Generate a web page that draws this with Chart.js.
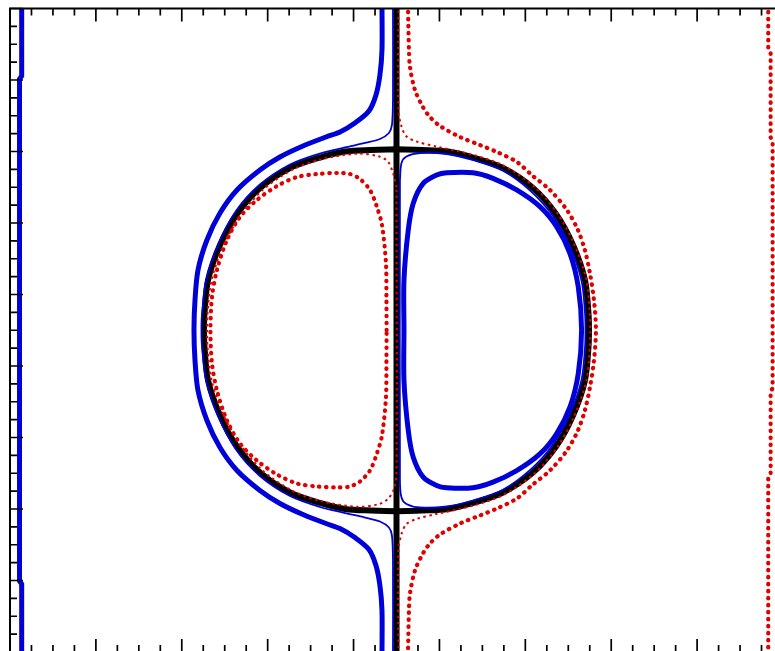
<!DOCTYPE html>
<html>
<head>
<meta charset="utf-8">
<script src="https://cdn.jsdelivr.net/npm/chart.js@4"></script>
<style>
  html, body { margin: 0; padding: 0; background: #fff; overflow: hidden; }
  #plot { display: block; }
</style>
</head>
<body>
<canvas id="plot" width="790" height="660"></canvas>
<script>
// Domain and tick spacing
const xRange = [0, 9];
const yRange = [0, 9];
const minorStep = 0.25;

// Body outline and the cut through it
const bodyRing = [
  [4.5, 7.031], [4.2, 7.022], [3.900, 7.000], [3.609, 6.916], [3.260, 6.769], [2.911, 6.490],
  [2.643, 6.126], [2.445, 5.692], [2.306, 5.203], [2.265, 4.741], [2.259, 4.5], [2.265, 4.259],
  [2.306, 3.797], [2.445, 3.308], [2.643, 2.874], [2.911, 2.510], [3.260, 2.231], [3.609, 2.084],
  [3.900, 2.000], [4.2, 1.978], [4.5, 1.969], [4.8, 1.978], [5.100, 2.000], [5.391, 2.084],
  [5.740, 2.231], [6.089, 2.510], [6.357, 2.874], [6.555, 3.308], [6.694, 3.797], [6.735, 4.259],
  [6.741, 4.5], [6.735, 4.741], [6.694, 5.203], [6.555, 5.692], [6.357, 6.126], [6.089, 6.490],
  [5.740, 6.769], [5.391, 6.916], [5.100, 7.000], [4.8, 7.022], [4.5, 7.031]
];
const bodyCut = [[4.5, -0.1], [4.5, 9.1]];

// Positive level (blue)
const blueEdge = [
  [0.136, 9.05], [0.136, 8.056], [0.111, 8.014], [0.111, 0.993], [0.136, 0.951], [0.136, -0.05]
];
const blueOuter = [
  [4.331, 9.05], [4.331, 8.420], [4.307, 8.070], [4.261, 7.790], [4.179, 7.566], [4.016, 7.399],
  [3.842, 7.273], [3.679, 7.203], [3.411, 7.077], [3.143, 6.923], [2.910, 6.741], [2.643, 6.462],
  [2.445, 6.140], [2.293, 5.762], [2.189, 5.343], [2.154, 4.923], [2.142, 4.5], [2.154, 4.077],
  [2.189, 3.657], [2.293, 3.238], [2.445, 2.860], [2.643, 2.538], [2.910, 2.259], [3.143, 2.077],
  [3.411, 1.923], [3.679, 1.797], [3.842, 1.727], [4.016, 1.601], [4.179, 1.434], [4.261, 1.210],
  [4.307, 0.930], [4.331, 0.580], [4.331, -0.05]
];
const blueInner = [
  [4.587, 4.5], [4.587, 5.203], [4.637, 5.902], [4.695, 6.276], [4.811, 6.555], [4.967, 6.671],
  [5.084, 6.703], [5.390, 6.703], [5.623, 6.625], [5.899, 6.462], [6.170, 6.228], [6.364, 5.948],
  [6.519, 5.576], [6.616, 5.109], [6.655, 4.5], [6.616, 3.891], [6.519, 3.424], [6.364, 3.052],
  [6.170, 2.772], [5.899, 2.538], [5.623, 2.375], [5.390, 2.297], [5.084, 2.297], [4.967, 2.329],
  [4.811, 2.445], [4.695, 2.724], [4.637, 3.098], [4.587, 3.797], [4.587, 4.5]
];
const blueNearLeft = [
  [4.459, 9.05], [4.459, 7.720], [4.447, 7.371], [4.412, 7.259], [4.307, 7.175], [4.133, 7.119],
  [3.900, 7.056], [3.609, 6.972], [3.260, 6.818], [2.910, 6.538], [2.631, 6.168], [2.421, 5.692],
  [2.282, 5.189], [2.235, 4.713], [2.229, 4.5], [2.235, 4.287], [2.282, 3.811], [2.421, 3.308],
  [2.631, 2.832], [2.910, 2.462], [3.260, 2.182], [3.609, 2.028], [3.900, 1.944], [4.133, 1.881],
  [4.307, 1.825], [4.412, 1.741], [4.447, 1.629], [4.459, 1.280], [4.459, -0.05]
];
const blueNearRight = [
  [4.540, 6.601], [4.558, 6.839], [4.616, 6.930], [4.773, 6.979], [5.087, 6.965], [5.390, 6.881],
  [5.74, 6.73], [6.06, 6.45], [6.32, 6.10], [6.52, 5.67], [6.655, 5.19], [6.695, 4.74], [6.70, 4.5],
  [6.695, 4.26], [6.655, 3.81], [6.52, 3.33], [6.32, 2.90], [6.06, 2.55], [5.74, 2.27], [5.390, 2.119],
  [5.087, 2.035], [4.773, 2.021], [4.616, 2.070], [4.558, 2.161], [4.540, 2.399], [4.540, 6.601]
];

// Negative level (red)
const redEdge = [
  [8.828, 9.05], [8.828, 8.45], [8.856, 8.38], [8.856, 7.20], [8.879, 7.12], [8.879, 3.69],
  [8.856, 3.64], [8.856, 2.50], [8.828, 2.44], [8.828, -0.05]
];
const redOuter = [
  [4.633, 9.05], [4.645, 8.420], [4.657, 8.182], [4.715, 7.860], [4.808, 7.622], [4.889, 7.483],
  [5.006, 7.357], [5.239, 7.203], [5.471, 7.091], [5.669, 6.993], [5.902, 6.853], [6.088, 6.657],
  [6.286, 6.462], [6.484, 6.182], [6.612, 5.902], [6.693, 5.622], [6.752, 5.301], [6.799, 4.923],
  [6.822, 4.5], [6.799, 4.077], [6.752, 3.699], [6.693, 3.378], [6.612, 3.098], [6.484, 2.818],
  [6.286, 2.538], [6.088, 2.343], [5.902, 2.147], [5.669, 2.007], [5.471, 1.909], [5.239, 1.797],
  [5.006, 1.643], [4.889, 1.517], [4.808, 1.378], [4.715, 1.140], [4.657, 0.818], [4.645, 0.580],
  [4.633, -0.05]
];
const redInner = [
  [4.385, 4.5], [4.383, 4.923], [4.377, 5.441], [4.331, 5.972], [4.272, 6.224], [4.191, 6.462],
  [4.075, 6.615], [3.958, 6.685], [3.807, 6.699], [3.574, 6.685], [3.341, 6.643], [3.108, 6.517],
  [2.875, 6.322], [2.678, 6.084], [2.526, 5.762], [2.410, 5.343], [2.352, 4.965], [2.334, 4.5],
  [2.352, 4.035], [2.410, 3.657], [2.526, 3.238], [2.678, 2.916], [2.875, 2.678], [3.108, 2.483],
  [3.341, 2.357], [3.574, 2.315], [3.807, 2.301], [3.958, 2.315], [4.075, 2.385], [4.191, 2.538],
  [4.272, 2.776], [4.331, 3.028], [4.377, 3.559], [4.383, 4.077], [4.385, 4.5]
];
const redNearRight = [
  [4.523, 9.05], [4.523, 7.580], [4.558, 7.350], [4.616, 7.210], [4.732, 7.140], [4.965, 7.070],
  [5.40, 6.95], [5.75, 6.80], [6.10, 6.51], [6.37, 6.14], [6.57, 5.70], [6.71, 5.21], [6.75, 4.74],
  [6.757, 4.5], [6.75, 4.26], [6.71, 3.79], [6.57, 3.30], [6.37, 2.86], [6.10, 2.49], [5.75, 2.20],
  [5.40, 2.05], [4.965, 1.930], [4.732, 1.860], [4.616, 1.790], [4.558, 1.650], [4.523, 1.420],
  [4.523, -0.05]
];
const redNearLeft = [
  [4.5, 6.50], [4.46, 6.70], [4.40, 6.86], [4.30, 6.93], [4.05, 6.97], [3.62, 6.89], [3.28, 6.74],
  [2.94, 6.46], [2.68, 6.10], [2.48, 5.67], [2.345, 5.19], [2.30, 4.74], [2.295, 4.5], [2.30, 4.26],
  [2.345, 3.81], [2.48, 3.33], [2.68, 2.90], [2.94, 2.54], [3.28, 2.26], [3.62, 2.11], [4.05, 2.03],
  [4.30, 2.07], [4.40, 2.14], [4.47, 2.28], [4.5, 2.50], [4.5, 6.50]
];

const BLUE = '#0000d8';
const RED = '#e00000';

function pts(list) {
  return list.map(p => ({ x: p[0], y: p[1] }));
}

function curve(list, style, order) {
  return Object.assign({
    data: pts(list),
    showLine: true,
    pointRadius: 0,
    pointHoverRadius: 0,
    fill: false,
    tension: 0.3,
    clip: 0,
    order: order
  }, style);
}

const thickBlue = { borderColor: BLUE, borderWidth: 5 };
const thinBlue = { borderColor: BLUE, borderWidth: 1.8 };
const thickRed = { borderColor: RED, borderWidth: 4.2, borderDash: [0.5, 6.5], borderCapStyle: 'round' };
const thinRed = { borderColor: RED, borderWidth: 2, borderDash: [2.5, 3.5] };
const body = { borderColor: '#000', borderWidth: 6 };

// inward ticks on the left, top and bottom sides plus the frame
const frameTicks = {
  id: 'frameTicks',
  afterDatasetsDraw(chart) {
    const { ctx, chartArea: a, scales: { x, y } } = chart;
    ctx.save();
    ctx.strokeStyle = '#000';
    ctx.lineWidth = 1.7;
    ctx.beginPath();
    const n = Math.round((xRange[1] - xRange[0]) / minorStep);
    for (let i = 0; i <= n; i++) {
      const len = i % 4 === 0 ? 13 : 7;
      const px = x.getPixelForValue(xRange[0] + i * minorStep);
      const py = y.getPixelForValue(yRange[0] + i * minorStep);
      ctx.moveTo(px, a.top); ctx.lineTo(px, a.top + len);
      ctx.moveTo(px, a.bottom); ctx.lineTo(px, a.bottom - len);
      ctx.moveTo(a.left, py); ctx.lineTo(a.left + len, py);
    }
    ctx.stroke();
    ctx.lineWidth = 2;
    ctx.beginPath();
    ctx.moveTo(a.right + 10, a.top);
    ctx.lineTo(a.left, a.top);
    ctx.lineTo(a.left, a.bottom);
    ctx.lineTo(a.right + 10, a.bottom);
    ctx.stroke();
    ctx.restore();
  }
};

new Chart(document.getElementById('plot'), {
  type: 'scatter',
  data: {
    datasets: [
      curve(bodyRing, body, 9),
      curve(bodyCut, Object.assign({}, body, { tension: 0 }), 8),
      curve(blueEdge, Object.assign({}, thickBlue, { tension: 0 }), 7),
      curve(blueOuter, thickBlue, 7),
      curve(blueInner, thickBlue, 7),
      curve(blueNearLeft, thinBlue, 6),
      curve(blueNearRight, thinBlue, 6),
      curve(redEdge, Object.assign({}, thickRed, { tension: 0 }), 5),
      curve(redOuter, thickRed, 5),
      curve(redInner, thickRed, 5),
      curve(redNearRight, thinRed, 4),
      curve(redNearLeft, thinRed, 4)
    ]
  },
  options: {
    responsive: false,
    animation: false,
    events: [],
    layout: { padding: { left: 10, top: 8.5, right: 7, bottom: 8 } },
    plugins: { legend: { display: false }, tooltip: { enabled: false } },
    scales: {
      x: { type: 'linear', min: xRange[0], max: xRange[1], display: false },
      y: { type: 'linear', min: yRange[0], max: yRange[1], display: false }
    }
  },
  plugins: [frameTicks]
});
</script>
</body>
</html>
